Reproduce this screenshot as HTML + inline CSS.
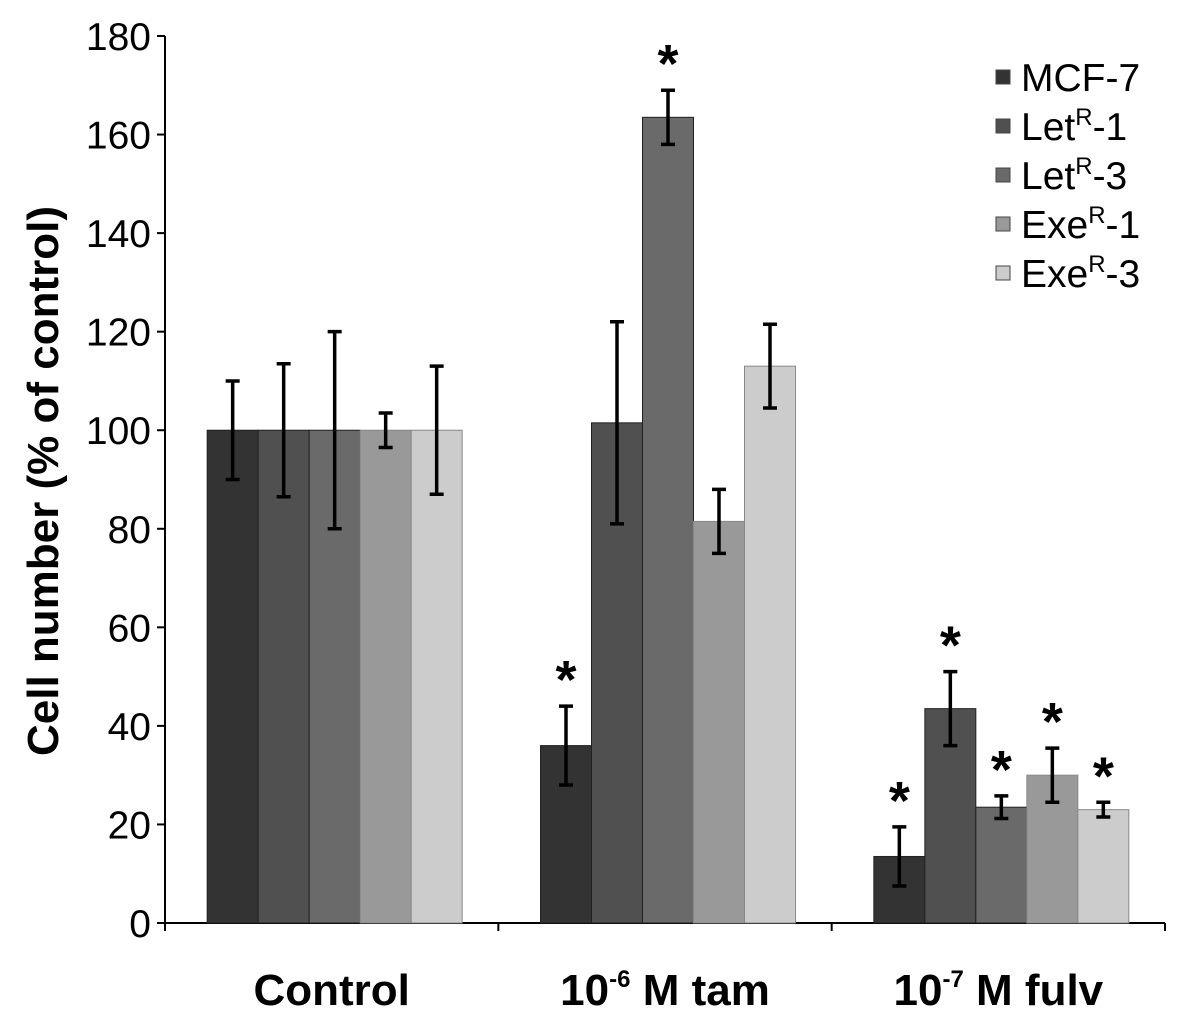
<!DOCTYPE html>
<html><head><meta charset="utf-8"><style>
body{margin:0;background:#fff}
svg{display:block;font-family:"Liberation Sans",Arial,sans-serif}
</style></head><body>
<svg id="chart" width="1181" height="1029" viewBox="0 0 1181 1029" xmlns="http://www.w3.org/2000/svg">
<g id="axes"></g><g id="bars"></g>
<text transform="translate(58,481) rotate(-90)" text-anchor="middle" font-size="44" font-weight="bold">Cell number (% of control)</text>
<g id="legend"></g>
</svg>
<script>
const categories = ["Control", "10-6 M tam", "10-7 M fulv"];
const series = ["MCF-7", "LetR-1", "LetR-3", "ExeR-1", "ExeR-3"];
const mcf7 = [100, 36, 13.5];
const letr1 = [100, 101.5, 43.5];
const letr3 = [100, 163.5, 23.5];
const exer1 = [100, 81.5, 30];
const exer3 = [100, 113, 23];
const errMcf7 = [10, 8, 6];
const errLetr1 = [13.5, 20.5, 7.5];
const errLetr3 = [20, 5.5, 2.3];
const errExer1 = [3.5, 6.5, 5.5];
const errExer3 = [13, 8.5, 1.5];
const sigMcf7 = [0, 1, 1];
const sigLetr1 = [0, 0, 1];
const sigLetr3 = [0, 1, 1];
const sigExer1 = [0, 0, 1];
const sigExer3 = [0, 0, 1];
const yTicks = [0, 20, 40, 60, 80, 100, 120, 140, 160, 180];

const values = [mcf7, letr1, letr3, exer1, exer3];
const errs = [errMcf7, errLetr1, errLetr3, errExer1, errExer3];
const sigs = [sigMcf7, sigLetr1, sigLetr3, sigExer1, sigExer3];
const colors = ["#333333", "#505050", "#6a6a6a", "#999999", "#cccccc"];
const NS = "http://www.w3.org/2000/svg";
const x0 = 165, x1 = 1165, y0 = 923, yTop = 36;
const yScale = v => y0 - (v / 180) * (y0 - yTop);
const groupW = (x1 - x0) / categories.length;
const barW = 51;
const xBar = (g, s) => x0 + g * groupW + (groupW - barW * series.length) / 2 + 3 + s * barW;
function mk(tag, attrs, parent) { const e = document.createElementNS(NS, tag); for (const k in attrs) e.setAttribute(k, attrs[k]); parent.appendChild(e); return e; }
const axes = document.getElementById("axes"), bars = document.getElementById("bars"), legend = document.getElementById("legend");

const yl = mk("line", {x1: x0, y1: yTop, x2: x0, y2: y0, stroke: "#000", "stroke-width": 2}, axes);


const xl = mk("line", {x1: x0, y1: y0, x2: x1, y2: y0, stroke: "#000", "stroke-width": 2}, axes);


yTicks.forEach(t => {
  const y = yScale(t);
  mk("line", {x1: x0 - 8, y1: y, x2: x0, y2: y, stroke: "#000", "stroke-width": 2}, axes);
  const tx = mk("text", {x: 151, y: y + 14, "text-anchor": "end", "font-size": 39}, axes);
  tx.textContent = t;
  
  
});
for (let g = 0; g <= categories.length; g++) {
  const x = x0 + g * groupW;
  mk("line", {x1: x, y1: y0, x2: x, y2: y0 + 8, stroke: "#000", "stroke-width": 2}, axes);
}
categories.forEach((c, g) => {
  const cx = x0 + (g + 0.5) * groupW;
  const t = mk("text", {x: cx, y: 1005, "text-anchor": "middle", "font-size": 44, "font-weight": "bold"}, axes);
  const m = c.match(/^10(-\d) (.*)$/);
  if (m) {
    t.appendChild(document.createTextNode("10"));
    const sup = mk("tspan", {"font-size": 24, dy: -18}, t); sup.textContent = m[1];
    const rest = mk("tspan", {dy: 18}, t); rest.textContent = " " + m[2];
  } else t.textContent = c;
  
  
});
values.forEach((arr, s) => {
  arr.forEach((v, g) => {
    const x = xBar(g, s), y = yScale(v);
    const r = mk("rect", {x: x, y: y, width: barW, height: y0 - y, fill: colors[s], stroke: s < 3 ? "#222" : "#888", "stroke-width": 1}, bars);
    
    
    const cx = x + barW / 2, e = errs[s][g];
    const yh = yScale(v + e), yl2 = yScale(v - e);
    const eb = mk("path", {d: `M${cx},${yh}V${yl2}M${cx-7},${yh}H${cx+7}M${cx-7},${yl2}H${cx+7}`, stroke: "#000", "stroke-width": 3.5, fill: "none"}, bars);
    
    
    if (sigs[s][g]) {
      const st = mk("text", {x: cx, y: yh - 8, "text-anchor": "middle", "font-size": 54, "font-weight": "bold"}, bars);
      st.textContent = "*";
      
      
    }
  });
});
series.forEach((s, i) => {
  const y = 77 + i * 49;
  const sw = mk("rect", {x: 996, y: y - 7, width: 14, height: 14, fill: colors[i], stroke: "#444"}, legend);
  
  
  const t = mk("text", {x: 1021, y: y + 14, "font-size": 39}, legend);
  const m = s.match(/^(\w+?)R(-\d)$/);
  if (m) {
    t.appendChild(document.createTextNode(m[1]));
    const sup = mk("tspan", {"font-size": 24, dy: -15}, t); sup.textContent = "R";
    const rest = mk("tspan", {dy: 15}, t); rest.textContent = m[2];
  } else t.textContent = s;
  
  
});
</script>
</body></html>
